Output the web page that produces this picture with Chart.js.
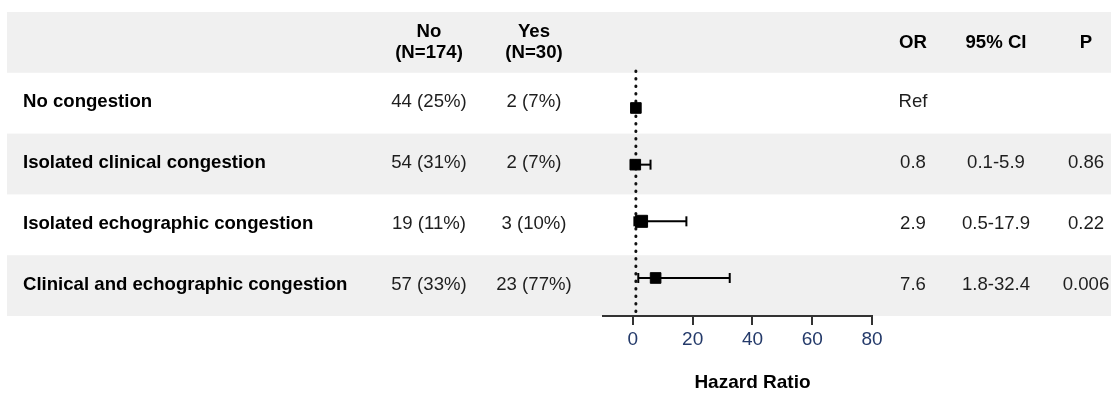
<!DOCTYPE html>
<html>
<head>
<meta charset="utf-8">
<script src="https://cdn.jsdelivr.net/npm/chart.js@4.4.1/dist/chart.umd.min.js"></script>
<style>
  html, body { margin: 0; padding: 0; background: #ffffff; }
  #wrap { width: 1111px; height: 394px; }
</style>
</head>
<body>
<div id="wrap"><canvas id="c" width="1111" height="394"></canvas></div>
<script>
// ---- data ----
const categories = ['No congestion', 'Isolated clinical congestion', 'Isolated echographic congestion', 'Clinical and echographic congestion'];
const noCounts = ['44 (25%)', '54 (31%)', '19 (11%)', '57 (33%)'];
const yesCounts = ['2 (7%)', '2 (7%)', '3 (10%)', '23 (77%)'];
const orValues = [1, 0.8, 2.9, 7.6];
const ciLow = [null, 0.1, 0.5, 1.8];
const ciHigh = [null, 5.9, 17.9, 32.4];
const orLabels = ['Ref', '0.8', '2.9', '7.6'];
const ciLabels = ['', '0.1-5.9', '0.5-17.9', '1.8-32.4'];
const pLabels = ['', '0.86', '0.22', '0.006'];
const groupHeaders = [['No', '(N=174)'], ['Yes', '(N=30)']];
const statHeaders = ['OR', '95% CI', 'P'];
const xTicks = [0, 20, 40, 60, 80];
const refValue = 1;
const axisTitle = 'Hazard Ratio';

// ---- styling ----
const FONT = '"Liberation Sans", Arial, Helvetica, sans-serif';
const FS = 18.6;
const colX = { label: 23, no: 429, yes: 534, or: 913, ci: 996, p: 1086 };

const squareData = orValues.map((v, i) => ({ x: v, y: i + 1 }));
const squareRadius = [7.5, 7.5, 8.5, 7.5];

const ciDatasets = [];
ciLow.forEach((lo, i) => {
  if (lo === null) return;
  ciDatasets.push({
    type: 'line',
    data: [{ x: lo, y: i + 1 }, { x: ciHigh[i], y: i + 1 }],
    yAxisID: 'y2',
    borderColor: '#000',
    borderWidth: 2,
    showLine: true,
    pointStyle: 'line',
    pointRotation: 90,
    pointRadius: 5,
    pointBorderWidth: 2,
    pointBorderColor: '#000',
    pointBackgroundColor: '#000'
  });
});

const bandPlugin = {
  id: 'bands',
  beforeDraw(chart) {
    const ctx = chart.ctx;
    const y = chart.scales.y;
    ctx.save();
    ctx.fillStyle = '#f0f0f0';
    [0, 2, 4].forEach(r => {
      const t = y.getPixelForValue(r - 0.5);
      const b = y.getPixelForValue(r + 0.5);
      ctx.fillRect(7, t, chart.width - 7, b - t);
    });
    ctx.restore();
  }
};

const tablePlugin = {
  id: 'table',
  afterDraw(chart) {
    const ctx = chart.ctx;
    const y = chart.scales.y;
    const x = chart.scales.x;
    ctx.save();
    ctx.textBaseline = 'middle';
    // header
    const hy = y.getPixelForValue(0);
    ctx.font = 'bold ' + FS + 'px ' + FONT;
    ctx.fillStyle = '#000';
    ctx.textAlign = 'center';
    [colX.no, colX.yes].forEach((cx, k) => {
      ctx.fillText(groupHeaders[k][0], cx, hy - 11);
      ctx.fillText(groupHeaders[k][1], cx, hy + 10);
    });
    [colX.or, colX.ci, colX.p].forEach((cx, k) => ctx.fillText(statHeaders[k], cx, hy));
    // rows
    categories.forEach((cat, i) => {
      const ry = y.getPixelForValue(i + 1) - 1;
      ctx.font = 'bold ' + FS + 'px ' + FONT;
      ctx.fillStyle = '#000';
      ctx.textAlign = 'left';
      ctx.fillText(cat, colX.label, ry);
      ctx.font = FS + 'px ' + FONT;
      ctx.fillStyle = '#1e1e1e';
      ctx.textAlign = 'center';
      ctx.fillText(noCounts[i], colX.no, ry);
      ctx.fillText(yesCounts[i], colX.yes, ry);
      ctx.fillText(orLabels[i], colX.or, ry);
      ctx.fillText(ciLabels[i], colX.ci, ry);
      ctx.fillText(pLabels[i], colX.p, ry);
    });
    // axis title, centred under the tick range
    const tx = (x.getPixelForValue(xTicks[0]) + x.getPixelForValue(xTicks[xTicks.length - 1])) / 2;
    ctx.font = 'bold 19px ' + FONT;
    ctx.fillStyle = '#000';
    ctx.textAlign = 'center';
    ctx.fillText(axisTitle, tx, 383);
    ctx.restore();
  }
};

new Chart(document.getElementById('c'), {
  type: 'scatter',
  data: {
    datasets: [
      {
        type: 'scatter',
        data: squareData,
        yAxisID: 'y2',
        pointStyle: 'rect',
        pointRadius: squareRadius,
        pointBackgroundColor: '#000',
        pointBorderColor: '#000',
        pointBorderWidth: 1
      },
      ...ciDatasets,
      {
        type: 'line',
        data: [{ x: refValue, y: 0.47 }, { x: refValue, y: 4.5 }],
        yAxisID: 'y',
        borderColor: '#111',
        borderWidth: 3,
        borderDash: [0.5, 7],
        borderCapStyle: 'round',
        pointRadius: 0
      }
    ]
  },
  options: {
    responsive: false,
    devicePixelRatio: 1,
    animation: false,
    events: [],
    layout: { padding: { left: 603, right: 239, top: 12, bottom: 0 } },
    plugins: { legend: { display: false }, tooltip: { enabled: false } },
    scales: {
      x: {
        type: 'linear',
        position: 'bottom',
        min: -10,
        max: 80,
        afterBuildTicks: s => { s.ticks = xTicks.map(v => ({ value: v })); },
        afterFit: s => { s.height = 78; },
        grid: { drawOnChartArea: false, drawTicks: true, tickLength: 9, color: '#333', lineWidth: 2 },
        border: { display: true, color: '#333', width: 2 },
        ticks: { font: { family: FONT, size: 19 }, color: '#243a6a', padding: 3, maxRotation: 0 },
        title: { display: false }
      },
      y: { type: 'linear', display: false, min: -0.5, max: 4.5, reverse: true },
      y2: { type: 'linear', display: false, min: -0.694, max: 4.671, reverse: true }
    }
  },
  plugins: [bandPlugin, tablePlugin]
});
</script>
</body>
</html>
